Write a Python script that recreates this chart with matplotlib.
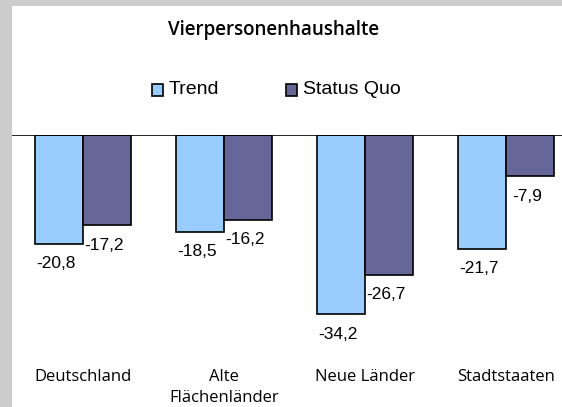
import matplotlib

matplotlib.use("Agg")

import matplotlib.pyplot as plt
import numpy as np
from matplotlib.patches import Rectangle

TITLE = "Vierpersonenhaushalte"
CATEGORIES = ["Deutschland", "Alte\nFlächenländer", "Neue Länder", "Stadtstaaten"]
SERIES = ["Trend", "Status Quo"]
TREND = [-20.8, -18.5, -34.2, -21.7]
STATUS_QUO = [-17.2, -16.2, -26.7, -7.9]
COLORS = ["#99ccff", "#666699"]

W, H = 562, 407


def fmt(v: float) -> str:
    return f"{v:.1f}".replace(".", ",")


def main() -> None:
    fig = plt.figure(figsize=(W / 100, H / 100), dpi=100, facecolor="#cccccc")
    fig.patches.append(
        Rectangle((12 / W, 0), 1 - 12 / W, 1 - 6 / H, transform=fig.transFigure,
                  facecolor="white", edgecolor="none", zorder=-5)
    )

    # axes: zero line at y=135 px, bottom at y=355 px
    top, bottom = 135, 355
    ax = fig.add_axes([12 / W, 1 - bottom / H, 1 - 12 / W, (bottom - top) / H])
    ax.set_facecolor("none")
    px_per_unit = 5.24
    ax.set_ylim(-(bottom - top) / px_per_unit, 0)
    ax.set_xlim(-71 / 141, 3 + 56 / 141)

    x = np.arange(len(CATEGORIES))
    width = 48 / 141
    for offset, values, color in [(-width / 2, TREND, COLORS[0]), (width / 2, STATUS_QUO, COLORS[1])]:
        ax.bar(x + offset, values, width, color=color, edgecolor="black", linewidth=1.2, zorder=2)
        for xi, v in zip(x + offset, values):
            ax.text(xi - 0.02, v - 20 / px_per_unit, fmt(v), ha="center", va="center",
                    fontsize=12.5, family="Liberation Sans")

    ax.axhline(0, color="black", linewidth=1.2, zorder=3)
    for s in ax.spines.values():
        s.set_visible(False)
    ax.set_yticks([])
    ax.set_xticks(x, CATEGORIES, family="Open Sans", fontsize=12, linespacing=1.4)
    ax.tick_params(axis="x", length=0, pad=10)

    fig.text(0.486, 1 - 30 / H, TITLE, ha="center", va="center", fontsize=13.5,
             fontweight="semibold", family="Open Sans")

    # legend
    ly = 1 - 90 / H
    for xm, label, color in [(152, SERIES[0], COLORS[0]), (286, SERIES[1], COLORS[1])]:
        fig.patches.append(
            Rectangle((xm / W, ly - 6 / H), 11 / W, 12 / H, transform=fig.transFigure,
                      facecolor=color, edgecolor="black", linewidth=1.2)
        )
        fig.text((xm + 17) / W, ly, label, ha="left", va="center", fontsize=14, family="Liberation Sans")

    fig.savefig("out.png", dpi=100)


if __name__ == "__main__":
    main()
